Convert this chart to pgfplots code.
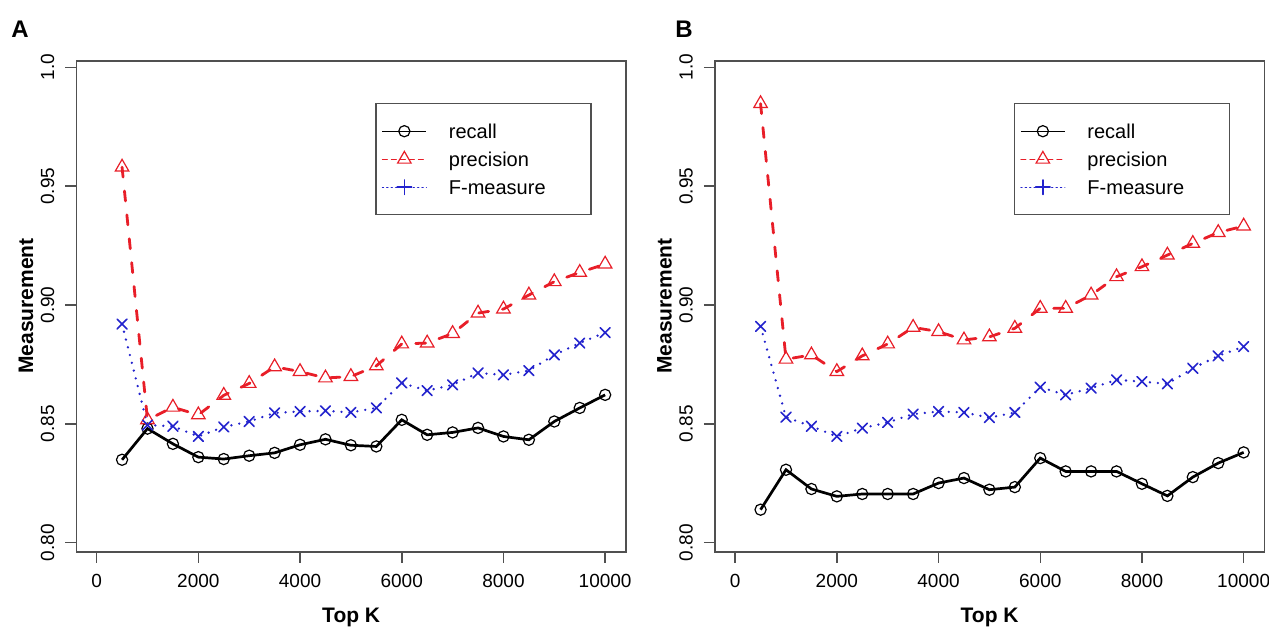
\documentclass[border=0pt]{standalone}
\usepackage{fontspec}
\setmainfont{Liberation Sans}
\usepackage{pgfplots}
\usepackage{pgfplotstable}
\pgfplotsset{compat=1.18}
\definecolor{rred}{RGB}{232,30,40}
\definecolor{rblue}{RGB}{35,35,205}
\definecolor{frame}{RGB}{80,80,80}

\pgfplotstableread{
k     r      p      f
500   0.8349 0.9580 0.8920
1000  0.8480 0.8517 0.8495
1500  0.8416 0.8570 0.8490
2000  0.8360 0.8538 0.8447
2500  0.8352 0.8620 0.8487
3000  0.8366 0.8670 0.8510
3500  0.8378 0.8740 0.8546
4000  0.8412 0.8720 0.8552
4500  0.8435 0.8693 0.8555
5000  0.8410 0.8699 0.8548
5500  0.8405 0.8744 0.8567
6000  0.8517 0.8836 0.8672
6500  0.8454 0.8840 0.8640
7000  0.8464 0.8880 0.8664
7500  0.8483 0.8966 0.8714
8000  0.8447 0.8983 0.8706
8500  0.8433 0.9042 0.8724
9000  0.8510 0.9098 0.8790
9500  0.8567 0.9137 0.8840
10000 0.8622 0.9172 0.8884
}\dataA

\pgfplotstableread{
k     r      p      f
500   0.8139 0.9847 0.8910
1000  0.8307 0.8772 0.8528
1500  0.8226 0.8790 0.8490
2000  0.8195 0.8720 0.8447
2500  0.8205 0.8786 0.8482
3000  0.8205 0.8836 0.8506
3500  0.8205 0.8906 0.8541
4000  0.8251 0.8888 0.8552
4500  0.8272 0.8853 0.8548
5000  0.8223 0.8866 0.8526
5500  0.8234 0.8902 0.8548
6000  0.8356 0.8986 0.8654
6500  0.8300 0.8986 0.8622
7000  0.8300 0.9042 0.8650
7500  0.8300 0.9119 0.8685
8000  0.8248 0.9161 0.8678
8500  0.8197 0.9210 0.8668
9000  0.8276 0.9259 0.8734
9500  0.8335 0.9305 0.8786
10000 0.8380 0.9332 0.8825
}\dataB

\pgfplotsset{
  rstyle/.style={
    scale only axis, width=274.85pt, height=245.5pt,
    xmin=-400, xmax=10410, ymin=0.7961, ymax=1.00265,
    axis line style={draw=frame, line width=0.75pt},
    xtick={0,2000,4000,6000,8000,10000},
    xticklabels={0,2000,4000,6000,8000,10000},
    scaled x ticks=false, scaled y ticks=false,
    ytick={0.80,0.85,0.90,0.95,1.0},
    yticklabels={0.80,0.85,0.90,0.95,1.0},
    tick align=outside, xtick pos=left, ytick pos=left,
    major tick length=5.5pt,
    every tick/.style={draw=frame, line width=0.75pt},
    ticklabel style={font=\fontsize{9.5}{11}\selectfont},
    yticklabel style={rotate=90, anchor=south},
    yticklabel shift=2pt,
    xticklabel shift=2pt,
    /pgf/number format/assume math mode=true,
    legend cell align=left,
    legend style={at={(rel axis cs:0.5434,0.9145)}, anchor=north west,
      draw=frame, line width=0.75pt, fill=white,
      inner xsep=3pt, inner ysep=7pt, row sep=0.5pt,
      font=\fontsize{10}{12}\selectfont,
      nodes={inner sep=0pt, text height=10.5pt, text depth=3pt},
      /tikz/every odd column/.append style={column sep=11pt}},
  },
  recstyle/.style={black, line width=1.35pt, mark=o, mark size=2.8pt,
    mark options={solid, line width=0.6pt, black}},
  prestyle/.style={rred, line width=1.4pt, line cap=round,
    dash pattern=on 5pt off 7pt, mark=triangle, mark size=3.9pt,
    mark options={solid, line width=0.6pt, rred}},
  fstyle/.style={rblue, line width=1.3pt, line cap=round,
    dash pattern=on 0pt off 4pt, mark=x, mark size=3.5pt,
    mark options={solid, line width=0.8pt, rblue}},
  recleg/.style={legend image code/.code={
    \draw[black, line width=0.6pt] (0pt,0pt) -- (22pt,0pt);
    \draw[black, line width=0.6pt] plot[mark=o, mark size=2.8pt] coordinates {(11pt,0pt)};}},
  preleg/.style={legend image code/.code={
    \draw[rred, line width=0.6pt, dash pattern=on 2.5pt off 2pt] (0pt,0pt) -- (22pt,0pt);
    \draw[rred, line width=0.6pt, solid] plot[mark=triangle, mark size=3.9pt] coordinates {(11pt,0pt)};}},
  fleg/.style={legend image code/.code={
    \draw[rblue, line width=0.6pt, dash pattern=on 0.6pt off 1.6pt] (0pt,0pt) -- (22pt,0pt);
    \draw[rblue, line width=0.8pt, solid] plot[mark=+, mark size=3.6pt] coordinates {(11pt,0pt)};}},
}

\begin{document}
\begin{tikzpicture}
\path[use as bounding box] (0,0) rectangle (634.5pt,315pt);

\begin{axis}[rstyle, at={(38.15pt,39pt)}, anchor=south west]
\addplot[recstyle, recleg] table[x=k, y=r] {\dataA};
\addlegendentry{\makebox[68pt][l]{recall}}
\addplot[prestyle, preleg] table[x=k, y=p] {\dataA};
\addlegendentry{\makebox[68pt][l]{precision}}
\addplot[fstyle, fleg] table[x=k, y=f] {\dataA};
\addlegendentry{\makebox[68pt][l]{F-measure}}
\end{axis}

\begin{axis}[rstyle, at={(357.4pt,39pt)}, anchor=south west]
\addplot[recstyle, recleg] table[x=k, y=r] {\dataB};
\addlegendentry{\makebox[68pt][l]{recall}}
\addplot[prestyle, preleg] table[x=k, y=p] {\dataB};
\addlegendentry{\makebox[68pt][l]{precision}}
\addplot[fstyle, fleg] table[x=k, y=f] {\dataB};
\addlegendentry{\makebox[68pt][l]{F-measure}}
\end{axis}

\node[font=\bfseries\fontsize{12}{14}\selectfont] at (10pt,300.5pt) {A};
\node[font=\bfseries\fontsize{12}{14}\selectfont] at (342pt,300.5pt) {B};
\node[font=\bfseries\fontsize{10.5}{12}\selectfont, rotate=90] at (13pt,162pt) {Measurement};
\node[font=\bfseries\fontsize{10.5}{12}\selectfont, rotate=90] at (332.3pt,162pt) {Measurement};
\node[font=\bfseries\fontsize{10.5}{12}\selectfont] at (175.6pt,6.5pt) {Top K};
\node[font=\bfseries\fontsize{10.5}{12}\selectfont] at (494.8pt,6.5pt) {Top K};
\end{tikzpicture}
\end{document}
